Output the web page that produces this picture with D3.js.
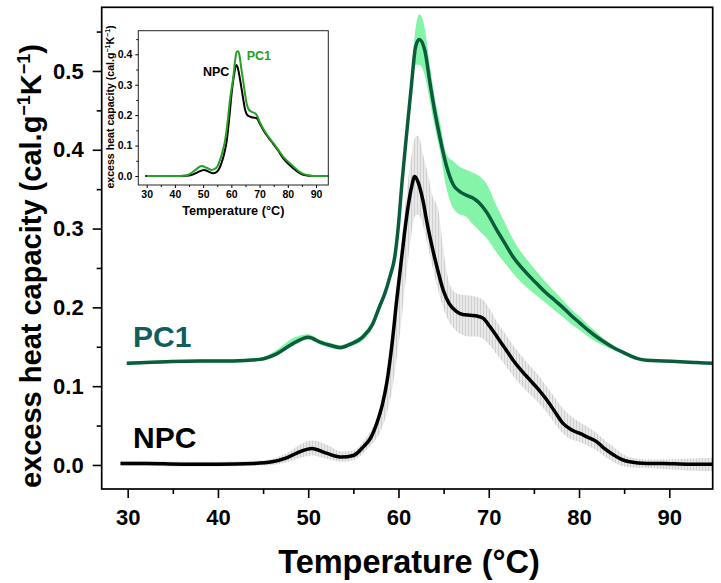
<!DOCTYPE html>
<html><head><meta charset="utf-8">
<script src="https://cdn.jsdelivr.net/npm/d3@7"></script>
<style>
html,body{margin:0;padding:0;background:#fff;}
svg{display:block;font-family:"Liberation Sans",Arial,sans-serif;font-weight:bold;}
</style></head>
<body>
<svg id="chart" width="721" height="583"></svg>
<script>
// ---------- main chart data ----------
const npcT  = [29.2,32,36,40,44,46,47.6,49.1,50.4,52.0,53.7,55.0,56.1,57.0,57.6,58.2,58.7,59.3,59.8,60.4,60.9,61.4,61.8,62.2,62.7,63.2,63.8,64.4,64.95,65.6,66.4,67.1,67.9,68.7,69.4,70.1,70.9,71.8,72.7,73.6,74.55,75.5,76.4,77.3,78.2,79.1,80.1,81.0,81.9,82.8,83.8,84.7,85.6,87.5,89.3,92,94.8];
const npcY  = [0.002,0.002,0.001,0.001,0.002,0.004,0.009,0.017,0.021,0.015,0.010,0.012,0.023,0.036,0.053,0.076,0.104,0.155,0.209,0.268,0.315,0.350,0.366,0.358,0.336,0.305,0.273,0.245,0.222,0.205,0.195,0.191,0.190,0.189,0.186,0.176,0.163,0.148,0.133,0.120,0.108,0.096,0.083,0.068,0.053,0.045,0.040,0.035,0.030,0.021,0.013,0.007,0.004,0.002,0.002,0.001,0.001];
const npcLo = [-0.001,-0.001,-0.002,-0.002,-0.001,0.000,0.003,0.009,0.012,0.008,0.004,0.006,0.015,0.026,0.034,0.048,0.065,0.095,0.135,0.190,0.245,0.290,0.315,0.318,0.305,0.280,0.250,0.222,0.200,0.182,0.170,0.165,0.163,0.163,0.160,0.152,0.140,0.127,0.113,0.101,0.090,0.079,0.067,0.053,0.040,0.033,0.029,0.024,0.019,0.011,0.004,-0.001,-0.003,-0.004,-0.005,-0.007,-0.008];
const npcHi = [0.005,0.005,0.004,0.004,0.005,0.008,0.015,0.026,0.031,0.026,0.017,0.018,0.030,0.045,0.060,0.085,0.115,0.170,0.225,0.290,0.345,0.390,0.415,0.418,0.395,0.372,0.340,0.325,0.275,0.232,0.218,0.216,0.215,0.213,0.209,0.198,0.182,0.167,0.152,0.139,0.126,0.114,0.100,0.086,0.072,0.062,0.054,0.048,0.041,0.032,0.023,0.015,0.010,0.007,0.007,0.008,0.009];

const pc1T  = [29.9,32,34.3,38,41.7,44.65,46.5,48.3,50.0,51.3,52.4,53.5,54.6,56.1,57.1,57.9,58.5,59.05,59.6,60.0,60.4,60.9,61.45,61.9,62.3,62.9,63.5,64.0,64.6,65.3,66.1,66.8,67.4,68.2,68.9,69.75,70.9,71.8,72.7,73.6,74.55,75.5,76.4,77.3,78.2,79.1,80.1,81.0,81.9,82.8,83.8,84.7,85.6,86.5,87.5,89.3,91.2,93,94.8];
const pc1Y  = [0.129,0.130,0.131,0.132,0.132,0.134,0.141,0.154,0.162,0.156,0.152,0.149,0.153,0.163,0.178,0.201,0.218,0.239,0.265,0.305,0.360,0.420,0.484,0.531,0.540,0.527,0.484,0.450,0.415,0.380,0.355,0.347,0.343,0.339,0.333,0.321,0.298,0.281,0.264,0.251,0.239,0.228,0.218,0.209,0.200,0.190,0.180,0.171,0.163,0.156,0.149,0.144,0.139,0.135,0.133,0.132,0.131,0.130,0.129];
const pc1Lo = [0.127,0.128,0.129,0.130,0.130,0.132,0.139,0.151,0.159,0.153,0.149,0.146,0.150,0.159,0.173,0.195,0.214,0.234,0.260,0.298,0.350,0.408,0.468,0.508,0.508,0.495,0.460,0.430,0.398,0.352,0.325,0.318,0.316,0.306,0.298,0.288,0.269,0.256,0.243,0.232,0.222,0.213,0.205,0.196,0.188,0.179,0.171,0.163,0.156,0.151,0.146,0.141,0.137,0.134,0.132,0.131,0.130,0.129,0.128];
const pc1Hi = [0.131,0.132,0.133,0.134,0.134,0.136,0.146,0.161,0.166,0.159,0.155,0.152,0.156,0.167,0.183,0.207,0.222,0.244,0.272,0.313,0.370,0.432,0.500,0.555,0.572,0.555,0.505,0.468,0.435,0.395,0.385,0.378,0.375,0.371,0.367,0.357,0.328,0.307,0.286,0.270,0.256,0.243,0.231,0.220,0.209,0.198,0.188,0.178,0.169,0.160,0.152,0.146,0.141,0.136,0.134,0.133,0.132,0.131,0.130];

const xTicks = [30,40,50,60,70,80,90];
const xMinor = [35,45,55,65,75,85];
const yTicks = [0.0,0.1,0.2,0.3,0.4,0.5];
const yMinor = [0.05,0.15,0.25,0.35,0.45,0.55];

// ---------- inset data ----------
const inNpcT = [29.5,35,40,44,46,48,50.3,52,53.6,55,56.4,57.5,58.4,59.3,60.1,61,61.7,62.3,63.1,64,64.9,65.7,66.6,67.8,69,70.1,71.3,73,74.9,76.7,78.4,80.2,82,83.8,85.5,87.5,90,94.4];
const inNpcY = [0.0,0.0,0.0,0.001,0.004,0.012,0.020,0.014,0.009,0.015,0.040,0.075,0.118,0.195,0.272,0.335,0.365,0.355,0.316,0.265,0.217,0.200,0.195,0.192,0.190,0.172,0.151,0.128,0.105,0.082,0.058,0.040,0.025,0.012,0.004,0.001,0.0,0.0];
const inPc1T = [30,35,40,44,45.5,47.5,49.5,51.2,53.0,54.6,56,57,57.8,58.7,59.5,60.7,61.4,61.9,62.4,62.8,63.5,64.3,65.5,66.2,67.2,68.2,69.0,70.1,71.3,73,74.9,76.7,78.4,80.2,82.0,83.8,85.5,87.5,89,94.4];
const inPc1Y = [0.0,0.0,0.0,0.002,0.008,0.022,0.033,0.027,0.020,0.026,0.053,0.085,0.118,0.180,0.250,0.326,0.385,0.409,0.410,0.400,0.355,0.305,0.235,0.218,0.211,0.207,0.200,0.177,0.155,0.131,0.108,0.085,0.063,0.046,0.031,0.016,0.007,0.002,0.0,0.0];
const inXTicks = [30,40,50,60,70,80,90];
const inXMinor = [35,45,55,65,75,85];
const inYTicks = [0.0,0.1,0.2,0.3,0.4];
const inYMinor = [0.05,0.15,0.25,0.35,0.45];

const svg = d3.select("#chart");

// pattern for gray hatched band
const defs = svg.append("defs");
const pat = defs.append("pattern").attr("id","grayHatch").attr("patternUnits","userSpaceOnUse")
  .attr("width",3).attr("height",10);
pat.append("rect").attr("width",3).attr("height",10).attr("fill","#e9e9e9");
pat.append("rect").attr("width",1).attr("height",10).attr("fill","#cfcfcf");

// ---------- main plot ----------
const L=101.7, R=712.7, T=7.3, B=489;
const x = d3.scaleLinear().domain([27.12,94.81]).range([L,R]);
const y = d3.scaleLinear().domain([-0.0305,0.5808]).range([B,T]);

const clip = defs.append("clipPath").attr("id","mainClip");
clip.append("rect").attr("x",L).attr("y",T).attr("width",R-L).attr("height",B-T);

const g = svg.append("g").attr("clip-path","url(#mainClip)");

const npcData = npcT.map((t,i)=>({t, v:npcY[i], lo:npcLo[i], hi:npcHi[i]}));
const pc1Data = pc1T.map((t,i)=>({t, v:pc1Y[i], lo:pc1Lo[i], hi:pc1Hi[i]}));

const area = d3.area().x(d=>x(d.t)).y0(d=>y(d.lo)).y1(d=>y(d.hi)).curve(d3.curveMonotoneX);
const line = d3.line().x(d=>x(d.t)).y(d=>y(d.v)).curve(d3.curveMonotoneX);

g.append("path").datum(npcData).attr("d",area).attr("fill","url(#grayHatch)");
g.append("path").datum(pc1Data).attr("d",area).attr("fill","#84f5a8");
g.append("path").datum(pc1Data).attr("d",line).attr("fill","none").attr("stroke","#0a5c3a").attr("stroke-width",3.5);
g.append("path").datum(npcData).attr("d",line).attr("fill","none").attr("stroke","#000").attr("stroke-width",3.5);

// axes
const xAx = svg.append("g").attr("transform",`translate(0,${B})`)
  .call(d3.axisBottom(x).tickValues(xTicks).tickSize(9).tickPadding(11).tickFormat(d3.format("d")));
svg.append("g").attr("transform",`translate(0,${B})`)
  .call(d3.axisBottom(x).tickValues(xMinor).tickSize(5).tickFormat(""));
const yAx = svg.append("g").attr("transform",`translate(${L},0)`)
  .call(d3.axisLeft(y).tickValues(yTicks).tickSize(9).tickPadding(9).tickFormat(d3.format(".1f")));
svg.append("g").attr("transform",`translate(${L},0)`)
  .call(d3.axisLeft(y).tickValues(yMinor).tickSize(5).tickFormat(""));
svg.selectAll(".domain").remove();
svg.selectAll(".tick line").attr("stroke","#000").attr("stroke-width",1.6);
xAx.selectAll("text").attr("font-size",22).attr("font-weight","bold").attr("fill","#000").attr("font-family","Liberation Sans, Arial, sans-serif");
yAx.selectAll("text").attr("font-size",22).attr("font-weight","bold").attr("fill","#000").attr("font-family","Liberation Sans, Arial, sans-serif");

svg.append("rect").attr("x",L).attr("y",T).attr("width",R-L).attr("height",B-T)
  .attr("fill","none").attr("stroke","#000").attr("stroke-width",1.7);

svg.append("text").attr("x",409).attr("y",573).attr("text-anchor","middle")
  .attr("font-size",32.5).text("Temperature (°C)");

const yl = svg.append("text").attr("transform","translate(41,266) rotate(-90)")
  .attr("text-anchor","middle").attr("font-size",29);
yl.append("tspan").text("excess heat capacity (cal.g");
yl.append("tspan").attr("font-size",18).attr("dy",-11).text("−1");
yl.append("tspan").attr("dy",11).text("K");
yl.append("tspan").attr("font-size",18).attr("dy",-11).text("−1");
yl.append("tspan").attr("dy",11).text(")");

svg.append("text").attr("x",133).attr("y",347).attr("font-size",30).attr("fill","#105e5c").text("PC1");
svg.append("text").attr("x",133).attr("y",448).attr("font-size",30).attr("fill","#000").text("NPC");

// ---------- inset ----------
const iL=138.3, iR=328.3, iT=30.7, iB=185;
const ix = d3.scaleLinear().domain([27.02,94.36]).range([iL,iR]);
const iy = d3.scaleLinear().domain([-0.0296,0.4776]).range([iB,iT]);
svg.append("rect").attr("x",iL).attr("y",iT).attr("width",iR-iL).attr("height",iB-iT).attr("fill","#fff");
const il = d3.line().x(d=>ix(d.t)).y(d=>iy(d.v)).curve(d3.curveMonotoneX);
const inNpc = inNpcT.map((t,i)=>({t,v:inNpcY[i]}));
const inPc1 = inPc1T.map((t,i)=>({t,v:inPc1Y[i]}));
svg.append("path").datum(inNpc).attr("d",il).attr("fill","none").attr("stroke","#000").attr("stroke-width",2);
svg.append("path").datum(inPc1).attr("d",il).attr("fill","none").attr("stroke","#25a025").attr("stroke-width",2);

const ixAx = svg.append("g").attr("transform",`translate(0,${iB})`)
  .call(d3.axisBottom(ix).tickValues(inXTicks).tickSize(3).tickPadding(3).tickFormat(d3.format("d")));
svg.append("g").attr("class","minor").attr("transform",`translate(0,${iB})`)
  .call(d3.axisBottom(ix).tickValues(inXMinor).tickSize(2).tickFormat(""));
const iyAx = svg.append("g").attr("transform",`translate(${iL},0)`)
  .call(d3.axisLeft(iy).tickValues(inYTicks).tickSize(3).tickPadding(3).tickFormat(d3.format(".1f")));
svg.append("g").attr("transform",`translate(${iL},0)`)
  .call(d3.axisLeft(iy).tickValues(inYMinor).tickSize(2).tickFormat(""));
svg.selectAll(".domain").remove();
[ixAx,iyAx].forEach(a=>a.selectAll("text").attr("font-size",10.5).attr("font-weight","bold").attr("fill","#000").attr("font-family","Liberation Sans, Arial, sans-serif"));
svg.append("rect").attr("x",iL).attr("y",iT).attr("width",iR-iL).attr("height",iB-iT)
  .attr("fill","none").attr("stroke","#222").attr("stroke-width",1);

svg.append("text").attr("x",233.3).attr("y",215).attr("text-anchor","middle").attr("font-size",12.7).text("Temperature (°C)");
const iyl = svg.append("text").attr("transform","translate(114,107) rotate(-90)")
  .attr("text-anchor","middle").attr("font-size",10.6);
iyl.append("tspan").text("excess heat capacity (cal.g");
iyl.append("tspan").attr("font-size",7).attr("dy",-4).text("−1");
iyl.append("tspan").attr("dy",4).text("K");
iyl.append("tspan").attr("font-size",7).attr("dy",-4).text("−1");
iyl.append("tspan").attr("dy",4).text(")");
svg.append("text").attr("x",203).attr("y",76).attr("font-size",12.5).attr("fill","#000").text("NPC");
svg.append("text").attr("x",246.7).attr("y",60).attr("font-size",12.5).attr("fill","#25a025").text("PC1");
</script>
</body></html>
